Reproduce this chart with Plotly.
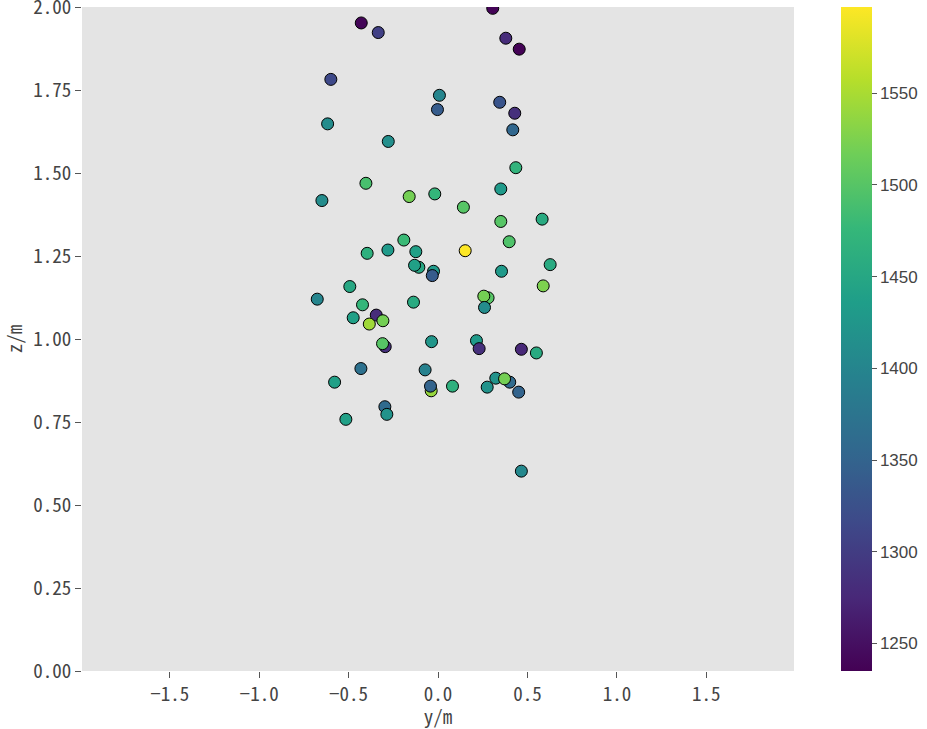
import plotly.graph_objects as go

y_pos = [-0.429, -0.334, 0.306, 0.379, 0.454, -0.599, 0.008, -0.003, 0.345, 0.429,
         0.418, -0.617, -0.278, 0.435, 0.351, -0.403, -0.649, -0.161, -0.018, 0.142,
         0.351, 0.582, 0.398, -0.191, -0.396, -0.280, -0.124, 0.152, 0.627, -0.107,
         -0.131, -0.025, -0.032, 0.355, 0.588, 0.280, 0.256, 0.260, -0.493, -0.675,
         -0.422, -0.137, -0.474, -0.345, -0.384, -0.308, -0.295, -0.310, -0.036, 0.215,
         0.230, 0.466, 0.550, -0.431, -0.072, -0.578, -0.038, -0.042, 0.081, 0.275,
         0.323, 0.401, 0.372, 0.451, -0.297, -0.286, -0.515, 0.466]
z_pos = [1.952, 1.923, 1.996, 1.906, 1.873, 1.782, 1.734, 1.691, 1.713, 1.680,
         1.630, 1.648, 1.595, 1.516, 1.452, 1.469, 1.417, 1.429, 1.437, 1.397,
         1.354, 1.361, 1.293, 1.298, 1.258, 1.268, 1.263, 1.266, 1.224, 1.216,
         1.222, 1.204, 1.191, 1.204, 1.160, 1.124, 1.129, 1.095, 1.158, 1.120,
         1.103, 1.111, 1.064, 1.072, 1.045, 1.055, 0.977, 0.986, 0.992, 0.995,
         0.971, 0.969, 0.958, 0.911, 0.907, 0.870, 0.844, 0.858, 0.858, 0.855,
         0.882, 0.870, 0.880, 0.840, 0.796, 0.773, 0.758, 0.602]
values = [1240, 1305, 1238, 1280, 1237, 1315, 1400, 1340, 1330, 1285,
          1355, 1410, 1415, 1470, 1430, 1490, 1410, 1520, 1475, 1500,
          1500, 1455, 1495, 1480, 1465, 1430, 1440, 1597, 1455, 1450,
          1440, 1430, 1340, 1430, 1525, 1500, 1520, 1410, 1450, 1400,
          1475, 1455, 1440, 1280, 1545, 1520, 1285, 1500, 1425, 1430,
          1285, 1275, 1455, 1370, 1395, 1440, 1540, 1350, 1465, 1420,
          1420, 1360, 1520, 1350, 1360, 1420, 1440, 1405]

x_ticks = [-1.5, -1.0, -0.5, 0.0, 0.5, 1.0, 1.5]
z_ticks = [0, 0.25, 0.5, 0.75, 1.0, 1.25, 1.5, 1.75, 2.0]
cbar_ticks = [1250, 1300, 1350, 1400, 1450, 1500, 1550]

tick_font = dict(family="Noto Sans Mono CJK SC, Liberation Mono, monospace", size=19, color="#444")
title_font = dict(family="Noto Sans Mono CJK SC, Liberation Mono, monospace", size=19, color="#444")

fig = go.Figure(go.Scatter(
    x=y_pos, y=z_pos, mode="markers",
    marker=dict(
        size=12, color=values, colorscale="Viridis", cmin=1235, cmax=1597,
        line=dict(color="black", width=1),
        colorbar=dict(
            x=1.066, xanchor="left", xpad=0, ypad=0, y=0, yanchor="bottom", len=1,
            thickness=31, outlinewidth=0, tickvals=cbar_ticks,
            ticks="outside", ticklen=5, tickcolor="#555",
            tickfont=dict(family="Liberation Sans, Arial", size=17, color="#444"),
        ),
    ),
    showlegend=False,
))

fig.update_layout(
    width=927, height=729,
    margin=dict(l=82, r=133, t=7, b=58, autoexpand=False),
    plot_bgcolor="#e4e4e4", paper_bgcolor="white",
    xaxis=dict(range=[-1.99, 1.99], tickvals=x_ticks, tickformat=".1f",
               showgrid=False, zeroline=False, ticks="outside", ticklen=6, tickcolor="#555",
               ticklabeloverflow="allow",
               tickfont=tick_font, title=dict(text="y/m", font=title_font, standoff=10)),
    yaxis=dict(range=[0, 2], tickvals=z_ticks, tickformat=".2f",
               showgrid=False, zeroline=False, ticks="outside", ticklen=6, tickcolor="#555",
               ticklabeloverflow="allow",
               tickfont=tick_font, title=dict(text="z/m", font=title_font, standoff=16)),
)

fig.write_html("out.html", config={"displayModeBar": False},
               post_script="document.body.style.margin='0px';")
